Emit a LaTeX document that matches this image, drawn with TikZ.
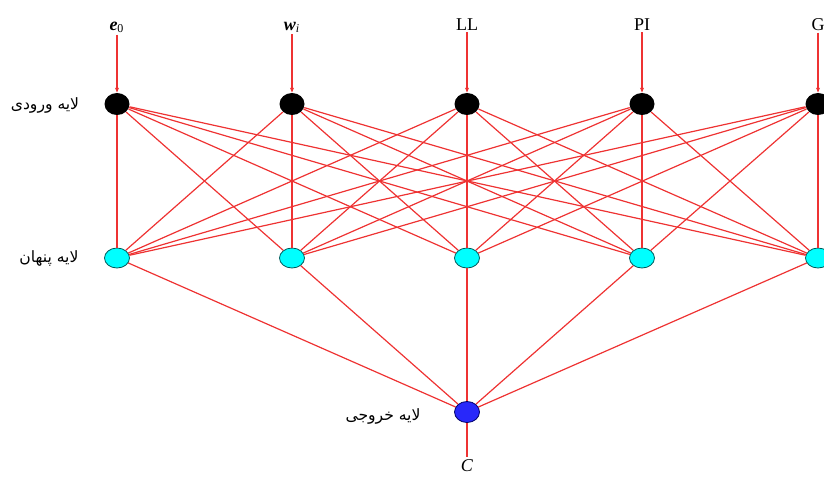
\documentclass[tikz,border=0pt]{standalone}
\usepackage{fontspec}
\setmainfont{Liberation Serif}
\newfontfamily\arabicfont[Script=Arabic]{DejaVu Sans}
\TeXXeTstate=1
\usetikzlibrary{arrows.meta,shapes.geometric}

\definecolor{linkred}{RGB}{238,50,50}
\definecolor{hidcyan}{RGB}{0,255,255}
\definecolor{outblue}{RGB}{40,40,250}

\begin{document}
\begin{tikzpicture}[x=0.5pt, y=-0.5pt,
	innode/.style={ellipse, fill=black, minimum width=12.5pt, minimum height=11pt, inner sep=0pt},
	hidnode/.style={ellipse, draw=teal!70!black, line width=0.4pt, fill=hidcyan, minimum width=12.5pt, minimum height=10pt, inner sep=0pt},
	outnode/.style={ellipse, draw=blue!40!black, line width=0.4pt, fill=outblue, minimum width=12.5pt, minimum height=10.5pt, inner sep=0pt},
	link/.style={draw=linkred, line width=0.6pt},
	feed/.style={draw=linkred, line width=0.6pt, -{Stealth[length=2.5pt,width=2pt]}},
	varlabel/.style={font=\fontsize{9}{10}\selectfont, inner sep=1pt},
	layerlabel/.style={font=\arabicfont\fontsize{7.8}{9}\selectfont, inner sep=0pt}]
	% Parameters
	\def\inY{104}    % row of the input layer
	\def\hidY{258}   % row of the hidden layer
	
	\useasboundingbox (0,0) rectangle (824,479);
	
	% Draw the two layers
	\foreach \i/\x in {1/117,2/292,3/467,4/642,5/818}{
		\node[innode] (in\i) at (\x,\inY) {};
		\node[hidnode] (hid\i) at (\x,\hidY) {};
	}
	\node[outnode] (out) at (467,412) {};
	
	% Input variables
	\node[varlabel, anchor=base] (le) at (117,30) {\textbf{\textit{e}}\textsubscript{0}};
	\node[varlabel, anchor=base] (lw) at (292,30) {\textbf{\textit{w}}\textsubscript{\textit{i}}};
	\node[varlabel, anchor=base] (lll) at (467,30) {LL};
	\node[varlabel, anchor=base] (lpi) at (642,30) {PI};
	\node[varlabel, anchor=base] (lg) at (818,30) {G};
	\node[varlabel, anchor=north] (lc) at (467,457) {\textit{C}};
	
	% Arrows into the input layer
	\draw[feed] (le) -- (in1);
	\draw[feed] (lw) -- (in2);
	\draw[feed] (lll) -- (in3);
	\draw[feed] (lpi) -- (in4);
	\draw[feed] (lg) -- (in5);
	
	% Full connection input -> hidden, hidden -> output
	\foreach \i in {1,...,5}{
		\foreach \j in {1,...,5}{
			\draw[link] (in\i) -- (hid\j);
		}
		\draw[link] (hid\i) -- (out);
	}
	\draw[link] (out) -- (lc);
	
	% Layer names
	\node[layerlabel] (nin) at (45,105) {\beginR لایه ورودی\endR};
	\node[layerlabel] (nhid) at (49,258) {\beginR لایه پنهان\endR};
	\node[layerlabel] (nout) at (383,416) {\beginR لایه خروجی\endR};
	
\end{tikzpicture}
\end{document}
